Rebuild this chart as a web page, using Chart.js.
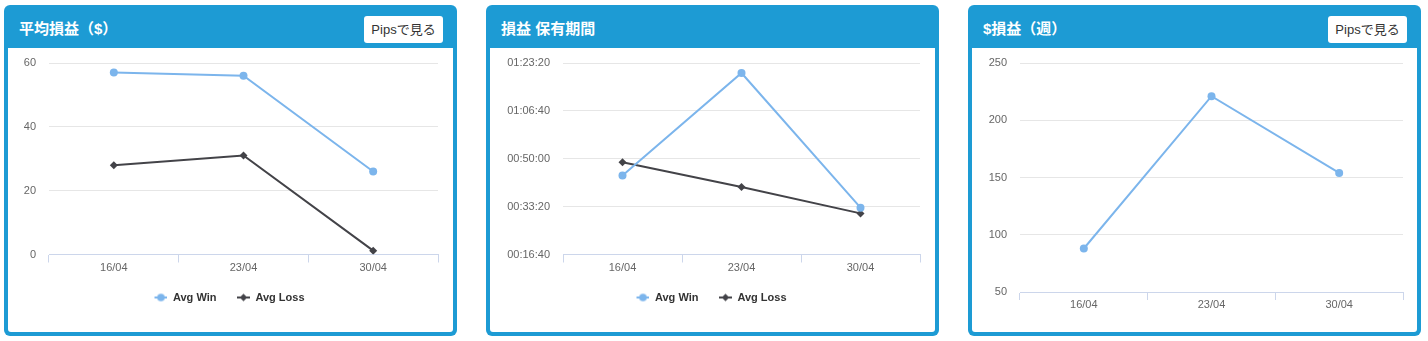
<!DOCTYPE html>
<html lang="ja">
<head>
<meta charset="utf-8">
<script src="https://cdn.jsdelivr.net/npm/chart.js@4.4.1/dist/chart.umd.min.js"></script>
<style>
  html, body { margin: 0; padding: 0; background: #fff; }
  body { width: 1428px; height: 341px; position: relative; overflow: hidden;
         font-family: "Liberation Sans", "Noto Sans CJK JP", sans-serif; }
  .panel { position: absolute; top: 5px; width: 453px; height: 331px; background: #1d9bd4;
           border-radius: 6px; }
  .panel .title { position: absolute; left: 15px; top: 14px; height: 20px; line-height: 20px;
                  color: #fff; font-weight: bold; font-size: 15px;
                  font-family: "Liberation Sans", "Noto Sans CJK JP", sans-serif; }
  .panel .btn { position: absolute; right: 14px; top: 11px; width: 79px; height: 27px;
                background: #fff; border-radius: 3px; color: #333; font-size: 13px;
                line-height: 27px; text-align: center;
                font-family: "Liberation Sans", "Noto Sans CJK JP", sans-serif; }
  .panel .body { position: absolute; left: 4px; top: 43px; width: 445px; height: 284px;
                 background: #fff; border-radius: 0 0 3px 3px; }
  .panel canvas { display: block; }
</style>
</head>
<body>
<div class="panel" style="left:4px">
  <div class="title">平均損益（$）</div>
  <div class="btn">Pipsで見る</div>
  <div class="body"><canvas id="chart_avg_usd" width="445" height="284"></canvas></div>
</div>
<div class="panel" style="left:486px">
  <div class="title">損益 保有期間</div>
  <div class="body"><canvas id="chart_hold" width="445" height="284"></canvas></div>
</div>
<div class="panel" style="left:968px">
  <div class="title">$損益（週）</div>
  <div class="btn">Pipsで見る</div>
  <div class="body"><canvas id="chart_week" width="445" height="284"></canvas></div>
</div>

<script>
// 週ラベル
const weeks = ['16/04', '23/04', '30/04'];

// 平均損益（$）
const avgWinUsd = [57, 56, 26];
const avgLossUsd = [28, 31, 1.2];
const usdTicks = [0, 20, 40, 60];

// 保有期間（秒）
const avgWinHold = [2648, 4791, 1978];
const avgLossHold = [2927, 2410, 1859];
const holdTicks = [1000, 2000, 3000, 4000, 5000];

// $損益（週）
const weeklyUsd = [88, 221, 154];
const weeklyTicks = [50, 100, 150, 200, 250];

const WIN_COLOR = '#7cb5ec';
const LOSS_COLOR = '#434348';

Chart.defaults.font.family = '"Liberation Sans", Arial, sans-serif';
Chart.defaults.font.size = 11;
Chart.defaults.color = '#666666';
Chart.defaults.animation = false;

// 凡例用のアイコン（線＋マーカー）を作る
function legendIcon(color, shape){
    const c = document.createElement('canvas');
    c.width = 15;
    c.height = 10;
    const ctx = c.getContext('2d');
    ctx.strokeStyle = color;
    ctx.fillStyle = color;
    ctx.lineWidth = 2;
    ctx.beginPath();
    ctx.moveTo(2, 5);
    ctx.lineTo(15, 5);
    ctx.stroke();
    const cx = 8.5, cy = 5, r = 3.8;
    ctx.beginPath();
    if(shape === 'diamond'){
        ctx.moveTo(cx, cy - r);
        ctx.lineTo(cx + r, cy);
        ctx.lineTo(cx, cy + r);
        ctx.lineTo(cx - r, cy);
        ctx.closePath();
    } else {
        ctx.arc(cx, cy, r, 0, Math.PI * 2);
    }
    ctx.fill();
    return c;
}
const winIcon = legendIcon(WIN_COLOR, 'circle');
const lossIcon = legendIcon(LOSS_COLOR, 'diamond');

// 秒を hh:mm:ss に
function toHms(sec){
    const h = Math.floor(sec / 3600);
    const m = Math.floor((sec % 3600) / 60);
    const s = Math.round(sec % 60);
    return [h, m, s].map(v => String(v).padStart(2, '0')).join(':');
}

function winDataset(values){
    return {
        label: 'Avg Win',
        data: values,
        borderColor: WIN_COLOR,
        backgroundColor: WIN_COLOR,
        borderWidth: 2,
        pointStyle: 'circle',
        pointRadius: 4,
        pointBorderWidth: 0,
        pointBackgroundColor: WIN_COLOR,
        tension: 0,
    };
}
function lossDataset(values){
    return {
        label: 'Avg Loss',
        data: values,
        borderColor: LOSS_COLOR,
        backgroundColor: LOSS_COLOR,
        borderWidth: 2,
        pointStyle: 'rectRot',
        pointRadius: 4,
        pointBorderWidth: 0,
        pointBackgroundColor: LOSS_COLOR,
        tension: 0,
    };
}

// グラフ共通オプション（axisWidth = 左端からプロット領域までの幅）
function chartOptions(ticks, axisWidth, withLegend, tickFormat){
    const padLeft = withLegend ? 11 : 0;
    return {
        responsive: false,
        layout: {
            padding: { top: 15, right: 15, left: padLeft, bottom: withLegend ? 19 : 22 }
        },
        scales: {
            x: {
                type: 'category',
                offset: true,
                grid: {
                    offset: true,
                    drawOnChartArea: false,
                    drawTicks: true,
                    tickLength: 8,
                    color: '#ccd6eb',
                },
                border: { display: true, color: '#ccd6eb', width: 1 },
                ticks: {
                    color: '#666666',
                    padding: withLegend ? -1.1 : -1.6,
                    font: { size: 11, lineHeight: 1.2 },
                    maxRotation: 0,
                },
            },
            y: {
                min: ticks[0],
                max: ticks[ticks.length - 1],
                grid: { color: '#e6e6e6', drawTicks: true, tickLength: 13, tickColor: 'rgba(0,0,0,0)' },
                border: { display: false },
                ticks: {
                    stepSize: ticks[1] - ticks[0],
                    padding: 0,
                    color: '#666666',
                    font: { size: 11 },
                    callback: tickFormat || (v => v),
                },
                afterFit: function(axis){ axis.width = axisWidth - padLeft; },
            },
        },
        plugins: {
            legend: {
                display: withLegend,
                position: 'bottom',
                labels: {
                    usePointStyle: true,
                    pointStyleWidth: 15,
                    padding: 18.5,
                    color: '#333333',
                    font: { size: 11, weight: 'bold' },
                    generateLabels: function(chart){
                        const items = Chart.defaults.plugins.legend.labels.generateLabels(chart);
                        items.forEach((item, i) => {
                            item.pointStyle = i === 0 ? winIcon : lossIcon;
                        });
                        return items;
                    },
                },
            },
            tooltip: { enabled: false },
        },
    };
}

new Chart(document.getElementById('chart_avg_usd'), {
    type: 'line',
    data: { labels: weeks, datasets: [winDataset(avgWinUsd), lossDataset(avgLossUsd)] },
    options: chartOptions(usdTicks, 41, true),
});

new Chart(document.getElementById('chart_hold'), {
    type: 'line',
    data: { labels: weeks, datasets: [winDataset(avgWinHold), lossDataset(avgLossHold)] },
    options: chartOptions(holdTicks, 73, true, v => toHms(v)),
});

const weekOpts = chartOptions(weeklyTicks, 48, false);
weekOpts.layout.padding.right = 14;
new Chart(document.getElementById('chart_week'), {
    type: 'line',
    data: { labels: weeks, datasets: [winDataset(weeklyUsd)] },
    options: weekOpts,
});
</script>
</body>
</html>
